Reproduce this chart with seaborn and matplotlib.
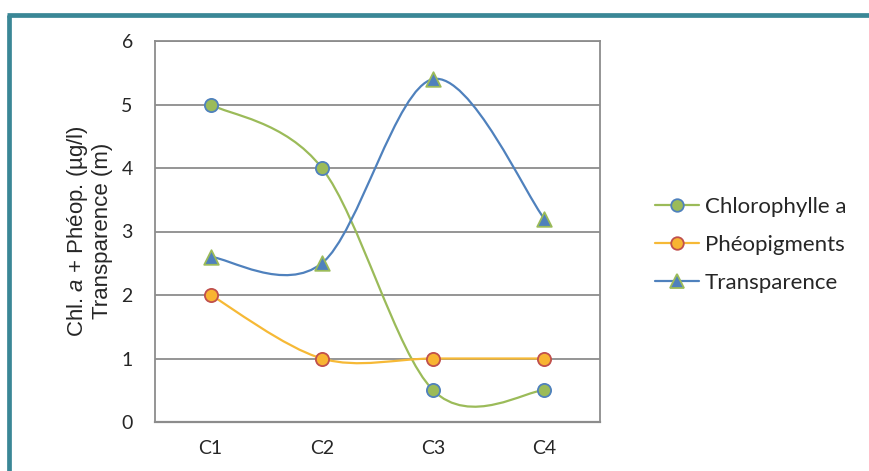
import numpy as np
import pandas as pd
import seaborn as sns
import matplotlib
matplotlib.use("Agg")
import matplotlib.pyplot as plt
from matplotlib.path import Path
from matplotlib.patches import PathPatch
from matplotlib.lines import Line2D

categories = ["C1", "C2", "C3", "C4"]
chlorophylle = [5.0, 4.0, 0.5, 0.5]
pheopigments = [2.0, 1.0, 1.0, 1.0]
transparence = [2.6, 2.5, 5.4, 3.2]
series_names = ["Chlorophylle a", "Phéopigments", "Transparence"]
yticks = [0, 1, 2, 3, 4, 5, 6]

sns.set_style("white")
plt.rcParams["font.family"] = ["Liberation Sans", "DejaVu Sans"]
plt.rcParams["mathtext.fontset"] = "custom"
plt.rcParams["mathtext.it"] = "Liberation Sans:italic"
plt.rcParams["mathtext.rm"] = "Liberation Sans"

fig = plt.figure(figsize=(8.7, 4.71), dpi=100)
ax = fig.add_axes([155/870, 1-422/471, (600-155)/870, (422-41)/471])

x = np.arange(1, len(categories) + 1)
df = pd.DataFrame({"x": np.tile(x, 3),
                   "y": chlorophylle + pheopigments + transparence,
                   "serie": np.repeat(series_names, len(categories))})

styles = {
    "Chlorophylle a": dict(line="#9BBB59", fill="#9BBB59", edge="#4F81BD", marker="o", size=9.5),
    "Phéopigments": dict(line="#F6B936", fill="#F8B432", edge="#C0504D", marker="o", size=9.5),
    "Transparence": dict(line="#4F81BD", fill="#4F81BD", edge="#9BBB59", marker="^", size=10.5),
}

def smooth_path(xs, ys):
    n = len(xs)
    verts = [(xs[0], ys[0])]
    codes = [Path.MOVETO]
    for i in range(n - 1):
        i0 = max(i - 1, 0)
        i3 = min(i + 2, n - 1)
        c1 = (xs[i] + (xs[i+1] - xs[i0]) / 6, ys[i] + (ys[i+1] - ys[i0]) / 6)
        c2 = (xs[i+1] - (xs[i3] - xs[i]) / 6, ys[i+1] - (ys[i3] - ys[i]) / 6)
        verts += [c1, c2, (xs[i+1], ys[i+1])]
        codes += [Path.CURVE4] * 3
    return Path(verts, codes)

for name in series_names:
    sub = df[df.serie == name]
    st = styles[name]
    ax.add_patch(PathPatch(smooth_path(sub.x.values, sub.y.values), fill=False,
                           edgecolor=st["line"], lw=1.6, zorder=3))
    sns.scatterplot(data=sub, x="x", y="y", ax=ax, marker=st["marker"], s=st["size"]**2,
                    color=st["fill"], edgecolor=st["edge"], linewidth=1.3, zorder=4, legend=False)

ax.set_xlim(0.5, len(categories) + 0.5)
ax.set_ylim(0, 6)
ax.set_yticks(yticks)
ax.set_yticklabels([str(v) for v in yticks], fontsize=14, family="Lato")
ax.set_xticks(np.arange(0.5, len(categories) + 1, 1))
ax.set_xticklabels([])
ax.set_xticks(x, minor=True)
ax.set_xticklabels(categories, minor=True, fontsize=14, family="Lato")
ax.tick_params(axis="x", which="minor", length=0, pad=13)
ax.tick_params(axis="x", which="major", length=6, width=1.3, color="#8C8C8C", direction="out")
ax.tick_params(axis="y", length=6, width=1.3, color="#8C8C8C", direction="out", pad=10)
ax.grid(axis="y", color="#8C8C8C", lw=1.3)
ax.set_axisbelow(True)
for s in ax.spines.values():
    s.set_color("#8C8C8C")
    s.set_linewidth(1.3)
ax.spines["bottom"].set_linewidth(1.6)
ax.set_xlabel("")
ax.set_ylabel("")
fig.text(89/870, 1-231/471, "Chl. $\\it{a}$ + Phéop. (µg/l)\nTransparence (m)", fontsize=16,
         rotation=90, ha="center", va="center", linespacing=1.15, multialignment="center")

handles = []
for name in series_names:
    st = styles[name]
    handles.append(Line2D([], [], color=st["line"], lw=1.6, marker=st["marker"],
                          markersize=st["size"] * 0.95, markerfacecolor=st["fill"],
                          markeredgecolor=st["edge"], markeredgewidth=1.3))
leg = fig.legend(handles, series_names, loc="center left", bbox_to_anchor=(655/870, 1-245/471),
                 frameon=False, handlelength=2.0, handletextpad=0.25, borderpad=0,
                 borderaxespad=0, labelspacing=0.82, prop={"family": "Lato", "size": 16})

teal = "#3A8796"
fig.add_artist(Line2D([9/870, 9/870], [1-15/471, -0.1], color=teal, lw=3.4,
                      transform=fig.transFigure, solid_capstyle="butt"))
fig.add_artist(Line2D([7/870, 1.1], [1-15/471, 1-15/471], color=teal, lw=3.4,
                      transform=fig.transFigure, solid_capstyle="butt"))

fig.savefig("out.png", dpi=100)
